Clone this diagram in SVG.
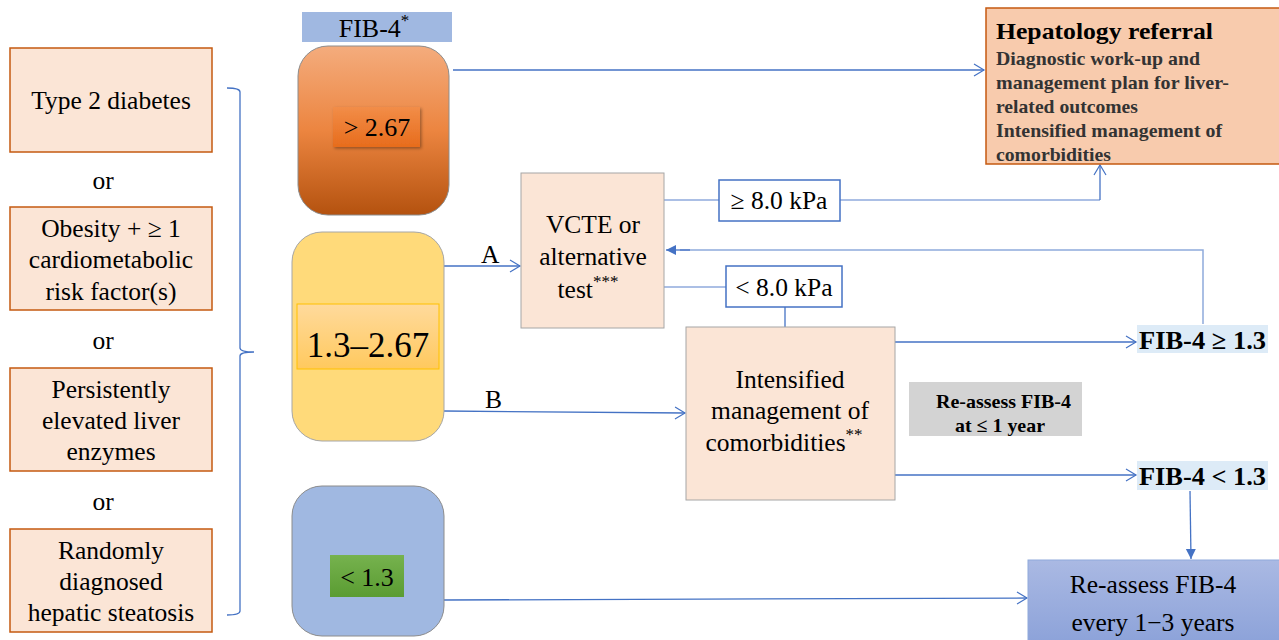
<svg xmlns="http://www.w3.org/2000/svg" width="1279" height="640" viewBox="0 0 1279 640">
<style>
.t{font-family:"Liberation Serif","Times New Roman",serif;fill:#000}
.c{text-anchor:middle}
.s24{font-size:25.5px}
.b{font-weight:bold}
.crit{fill:#FBE5D6;stroke:#C55A11;stroke-width:1.5}
.pbox{fill:#FBE5D6;stroke:#A6A6A6;stroke-width:1}
.ln{fill:none;stroke:#4472C4;stroke-width:1.3}
.lnl{fill:none;stroke:#8FAADC;stroke-width:1.5}
.kpa{fill:#fff;stroke:#4472C4;stroke-width:1.5}
.res{fill:#DDEBF7}
</style>
<defs>
<marker id="open" markerWidth="14" markerHeight="14" refX="11" refY="7" orient="auto" markerUnits="userSpaceOnUse">
<path d="M1,1 L11,7 L1,13" fill="none" stroke="#4472C4" stroke-width="1.2"/>
</marker>
<marker id="fill" markerWidth="12" markerHeight="12" refX="10" refY="6" orient="auto" markerUnits="userSpaceOnUse">
<path d="M0,1 L10,6 L0,11 Z" fill="#4472C4"/>
</marker>
<linearGradient id="gOr" x1="0" y1="0" x2="0" y2="1">
<stop offset="0" stop-color="#F4AC7D"/>
<stop offset="0.5" stop-color="#EC8540"/>
<stop offset="1" stop-color="#B4520F"/>
</linearGradient>
<linearGradient id="gOrIn" x1="0" y1="0" x2="0" y2="1">
<stop offset="0" stop-color="#F28D48"/>
<stop offset="1" stop-color="#E76C1C"/>
</linearGradient>
<linearGradient id="gYeIn" x1="0" y1="0" x2="0" y2="1">
<stop offset="0" stop-color="#FFDA9C"/>
<stop offset="1" stop-color="#FFC95E"/>
</linearGradient>
<linearGradient id="gGr" x1="0" y1="0" x2="0" y2="1">
<stop offset="0" stop-color="#76B24E"/>
<stop offset="1" stop-color="#5A9C32"/>
</linearGradient>
<linearGradient id="gBl" x1="0" y1="0" x2="0" y2="1">
<stop offset="0" stop-color="#AAB9E3"/>
<stop offset="1" stop-color="#8CA2D9"/>
</linearGradient>
<filter id="sh" x="-20%" y="-20%" width="150%" height="150%">
<feDropShadow dx="1.5" dy="1.5" stdDeviation="1.5" flood-color="#000" flood-opacity="0.35"/>
</filter>
</defs>

<!-- connectors -->
<g id="connectors">
<path class="ln" d="M227,88 Q240,88 240,92 L240,348 Q240,352 254,352 Q240,352 240,356 L240,611 Q240,615 227,615"/>
<line class="ln" x1="453" y1="70" x2="984" y2="70" marker-end="url(#open)"/>
<line class="ln" x1="444" y1="266" x2="520" y2="266" marker-end="url(#open)"/>
<line class="ln" x1="444" y1="411" x2="685" y2="413" marker-end="url(#open)"/>
<line class="lnl" x1="664" y1="200" x2="719" y2="200"/>
<polyline class="lnl" points="840,200 1100,200"/>
<polyline class="ln" points="1100,200 1100,165" marker-end="url(#open)"/>
<line class="lnl" x1="664" y1="287" x2="726" y2="287"/>
<line class="ln" x1="785" y1="307" x2="785" y2="327"/>
<polyline class="lnl" points="1203,324 1203,250 680,250"/>
<line class="ln" x1="690" y1="250" x2="666" y2="250" marker-end="url(#fill)"/>
<line class="ln" x1="895" y1="342" x2="1136" y2="342" marker-end="url(#open)"/>
<line class="ln" x1="895" y1="475" x2="1136" y2="475" marker-end="url(#open)"/>
<line class="ln" x1="1190" y1="491" x2="1191" y2="559" marker-end="url(#fill)"/>
<line class="ln" x1="444" y1="600" x2="1027" y2="598" marker-end="url(#open)"/>
<text class="t s24" x="481" y="263">A</text>
<text class="t s24" x="485" y="408">B</text>
</g>

<!-- left criteria -->
<g id="crit-t2d">
<rect class="crit" x="10" y="48" width="202" height="104"/>
<text class="t s24 c" x="111" y="109">Type 2 diabetes</text>
</g>
<text class="t s24 c" x="103" y="189">or</text>
<g id="crit-obesity">
<rect class="crit" x="10" y="207" width="202" height="103"/>
<text class="t s24 c" x="111" y="237">Obesity + ≥ 1</text>
<text class="t s24 c" x="111" y="268">cardiometabolic</text>
<text class="t s24 c" x="111" y="300">risk factor(s)</text>
</g>
<text class="t s24 c" x="103" y="349">or</text>
<g id="crit-liver">
<rect class="crit" x="10" y="368" width="202" height="103"/>
<text class="t s24 c" x="111" y="398">Persistently</text>
<text class="t s24 c" x="111" y="429">elevated liver</text>
<text class="t s24 c" x="111" y="460">enzymes</text>
</g>
<text class="t s24 c" x="103" y="510">or</text>
<g id="crit-steatosis">
<rect class="crit" x="10" y="529" width="202" height="103"/>
<text class="t s24 c" x="111" y="559">Randomly</text>
<text class="t s24 c" x="111" y="590">diagnosed</text>
<text class="t s24 c" x="111" y="621">hepatic steatosis</text>
</g>

<!-- FIB-4 header -->
<g id="fib4-header">
<rect x="302" y="12" width="150" height="30" fill="#A0B8E1"/>
<text class="t c" font-size="26" x="374" y="37">FIB-4<tspan font-size="17" dy="-11">*</tspan></text>
</g>

<g id="fib4-high">
<rect x="298" y="46" width="151" height="169" rx="30" fill="url(#gOr)" stroke="#8C8C8C" stroke-width="1"/>
<rect x="333" y="107" width="87" height="40" fill="url(#gOrIn)" filter="url(#sh)"/>
<text class="t c" font-size="26" x="377" y="136">&gt; 2.67</text>
</g>

<g id="fib4-mid">
<rect x="292" y="232" width="152" height="209" rx="30" fill="#FFDA7A" stroke="#A6A6A6" stroke-width="1"/>
<rect x="297" y="304" width="142" height="65" fill="url(#gYeIn)" stroke="#FFC000" stroke-width="1"/>
<text class="t c" font-size="35" x="368" y="357">1.3–2.67</text>
</g>

<g id="fib4-low">
<rect x="292" y="486" width="152" height="150" rx="30" fill="#A0B8E1" stroke="#8C8C8C" stroke-width="1"/>
<rect x="330" y="555" width="74" height="42" fill="url(#gGr)"/>
<text class="t c" font-size="26" x="367" y="586">&lt; 1.3</text>
</g>

<g id="hepatology">
<rect x="986" y="8" width="300" height="156" fill="#F8CBAD" stroke="#C55A11" stroke-width="1.5"/>
<text class="t b" font-size="24" x="996" y="39" textLength="217" lengthAdjust="spacingAndGlyphs">Hepatology referral</text>
<g class="t b" font-size="19" fill="#333">
<text x="996" y="65" fill="#333" textLength="204" lengthAdjust="spacingAndGlyphs">Diagnostic work-up and</text>
<text x="996" y="89" fill="#333" textLength="233" lengthAdjust="spacingAndGlyphs">management plan for liver-</text>
<text x="996" y="113" fill="#333" textLength="142" lengthAdjust="spacingAndGlyphs">related outcomes</text>
<text x="996" y="137" fill="#333" textLength="226" lengthAdjust="spacingAndGlyphs">Intensified management of</text>
<text x="996" y="161" fill="#333" textLength="115" lengthAdjust="spacingAndGlyphs">comorbidities</text>
</g>
</g>

<g id="vcte">
<rect class="pbox" x="521" y="173" width="143" height="155"/>
<text class="t s24 c" x="593" y="233">VCTE or</text>
<text class="t s24 c" x="593" y="265">alternative</text>
<text class="t s24 c" x="588" y="298">test<tspan font-size="17" dy="-11">***</tspan></text>
</g>

<g id="kpa-high">
<rect class="kpa" x="719" y="180" width="121" height="41"/>
<text class="t s24 c" x="779" y="209">≥ 8.0 kPa</text>
</g>

<g id="kpa-low">
<rect class="kpa" x="726" y="266" width="116" height="41"/>
<text class="t s24 c" x="784" y="296">&lt; 8.0 kPa</text>
</g>

<g id="intensified">
<rect class="pbox" x="686" y="327" width="209" height="173"/>
<text class="t s24 c" x="790" y="388">Intensified</text>
<text class="t s24 c" x="790" y="419">management of</text>
<text class="t s24 c" x="784" y="451">comorbidities<tspan font-size="17" dy="-11">**</tspan></text>
</g>

<g id="reassess-1y">
<rect x="909" y="382" width="173" height="54" fill="#D3D3D3"/>
<text class="t b" font-size="19.5" x="936" y="408" textLength="135" lengthAdjust="spacingAndGlyphs">Re-assess FIB-4</text>
<text class="t b" font-size="19.5" x="955" y="432" textLength="90" lengthAdjust="spacingAndGlyphs">at ≤ 1 year</text>
</g>

<g id="fib4-ge">
<rect class="res" x="1137" y="325" width="131" height="28"/>
<text class="t b" font-size="26" x="1139" y="349" textLength="127" lengthAdjust="spacingAndGlyphs">FIB-4 ≥ 1.3</text>
</g>

<g id="fib4-lt">
<rect class="res" x="1137" y="461" width="131" height="29"/>
<text class="t b" font-size="26" x="1139" y="485" textLength="127" lengthAdjust="spacingAndGlyphs">FIB-4 &lt; 1.3</text>
</g>

<g id="reassess-1-3">
<rect x="1028" y="560" width="260" height="84" fill="url(#gBl)" stroke="#8FAADC" stroke-width="1"/>
<text class="t s24 c" x="1153" y="593">Re-assess FIB-4</text>
<text class="t s24 c" x="1153" y="631">every 1−3 years</text>
</g>
</svg>
